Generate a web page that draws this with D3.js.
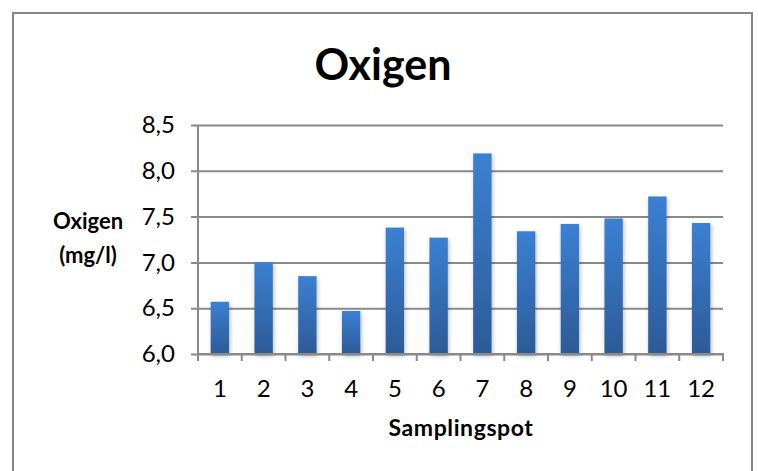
<!DOCTYPE html>
<html>
<head>
<meta charset="utf-8">
<script src="https://cdn.jsdelivr.net/npm/d3@7"></script>
<style>
  html, body { margin: 0; padding: 0; background: #fff; }
  svg { display: block; }
  text { font-family: Lato, "Open Sans", sans-serif; fill: #000; }
</style>
</head>
<body>
<svg id="chart" width="758" height="471"></svg>
<script>
// Dissolved oxygen per sampling spot
const spots = ["1", "2", "3", "4", "5", "6", "7", "8", "9", "10", "11", "12"];
const oxygen = [6.57, 7.00, 6.85, 6.47, 7.38, 7.27, 8.19, 7.34, 7.42, 7.48, 7.72, 7.43];
const yTicks = [6.0, 6.5, 7.0, 7.5, 8.0, 8.5];

const svg = d3.select("#chart");
const W = 758, H = 471;
const plot = { left: 198, right: 723, top: 125, bottom: 354 };

// chart frame
svg.append("rect")
  .attr("x", 13).attr("y", 13)
  .attr("width", 739).attr("height", H + 20)
  .attr("fill", "#fff").attr("stroke", "#868686").attr("stroke-width", 2);

const defs = svg.append("defs");
const grad = defs.append("linearGradient")
  .attr("id", "barFill").attr("x1", 0).attr("y1", 0).attr("x2", 0).attr("y2", 1);
grad.append("stop").attr("offset", "0%").attr("stop-color", "#3b80d2");
grad.append("stop").attr("offset", "100%").attr("stop-color", "#2c5b98");

const shadow = defs.append("filter").attr("id", "barShadow")
  .attr("x", "-30%").attr("y", "-10%").attr("width", "160%").attr("height", "130%");
shadow.append("feDropShadow")
  .attr("dx", 1).attr("dy", 2).attr("stdDeviation", 2)
  .attr("flood-color", "#000").attr("flood-opacity", 0.28);

const x = d3.scaleBand().domain(spots).range([plot.left, plot.right]).paddingInner(0.58).paddingOuter(0.29);
const y = d3.scaleLinear().domain([6.0, 8.5]).range([plot.bottom, plot.top]);

const fmt = d => d.toFixed(1).replace(".", ",");

// horizontal gridlines with left ticks
const yAxis = d3.axisLeft(y).tickValues(yTicks).tickFormat(fmt)
  .tickSize(-(plot.right - plot.left)).tickPadding(23);
const gy = svg.append("g").attr("transform", `translate(${plot.left},0)`).call(yAxis);
gy.select(".domain").remove();
gy.selectAll(".tick line")
  .attr("x1", -7)
  .attr("stroke", "#898989").attr("stroke-width", 2);
gy.selectAll(".tick text")
  .attr("font-size", 24).attr("font-family", "Lato, sans-serif").attr("fill", "#000");

// bars
svg.append("g").selectAll("rect")
  .data(oxygen)
  .join("rect")
  .attr("x", (d, i) => x(spots[i]))
  .attr("width", x.bandwidth())
  .attr("y", d => y(d))
  .attr("height", d => y(6.0) - y(d))
  .attr("fill", "url(#barFill)")
  .attr("filter", "url(#barShadow)");

// vertical axis line
svg.append("line")
  .attr("x1", plot.left).attr("x2", plot.left)
  .attr("y1", plot.top).attr("y2", plot.bottom + 1)
  .attr("stroke", "#898989").attr("stroke-width", 2);

// category axis with ticks at band boundaries
const gx = svg.append("g").attr("transform", `translate(0,${plot.bottom})`)
  .call(d3.axisBottom(x).tickSize(0).tickPadding(26));
gx.select(".domain").remove();
gx.selectAll(".tick text")
  .attr("font-size", 24).attr("font-family", "Lato, sans-serif").attr("fill", "#000");
svg.append("line")
  .attr("x1", plot.left - 1).attr("x2", plot.right + 1)
  .attr("y1", plot.bottom).attr("y2", plot.bottom)
  .attr("stroke", "#898989").attr("stroke-width", 2);
const step = x.step();
svg.append("g").selectAll("line")
  .data(d3.range(spots.length + 1))
  .join("line")
  .attr("x1", i => plot.left + i * step).attr("x2", i => plot.left + i * step)
  .attr("y1", plot.bottom).attr("y2", plot.bottom + 7)
  .attr("stroke", "#898989").attr("stroke-width", 2);

// title and axis titles
svg.append("text")
  .attr("x", 383).attr("y", 80)
  .attr("text-anchor", "middle")
  .attr("font-size", 43).attr("font-weight", "bold")
  .text("Oxigen");

svg.append("text")
  .attr("x", 461).attr("y", 436)
  .attr("text-anchor", "middle")
  .attr("font-size", 23).attr("font-weight", "bold")
  .attr("letter-spacing", 0.6)
  .text("Samplingspot");

const yt = svg.append("text")
  .attr("text-anchor", "middle")
  .attr("font-size", 22).attr("font-weight", "bold");
yt.append("tspan").attr("x", 88).attr("y", 229).text("Oxigen");
yt.append("tspan").attr("x", 88).attr("y", 263).text("(mg/l)");
</script>
</body>
</html>
